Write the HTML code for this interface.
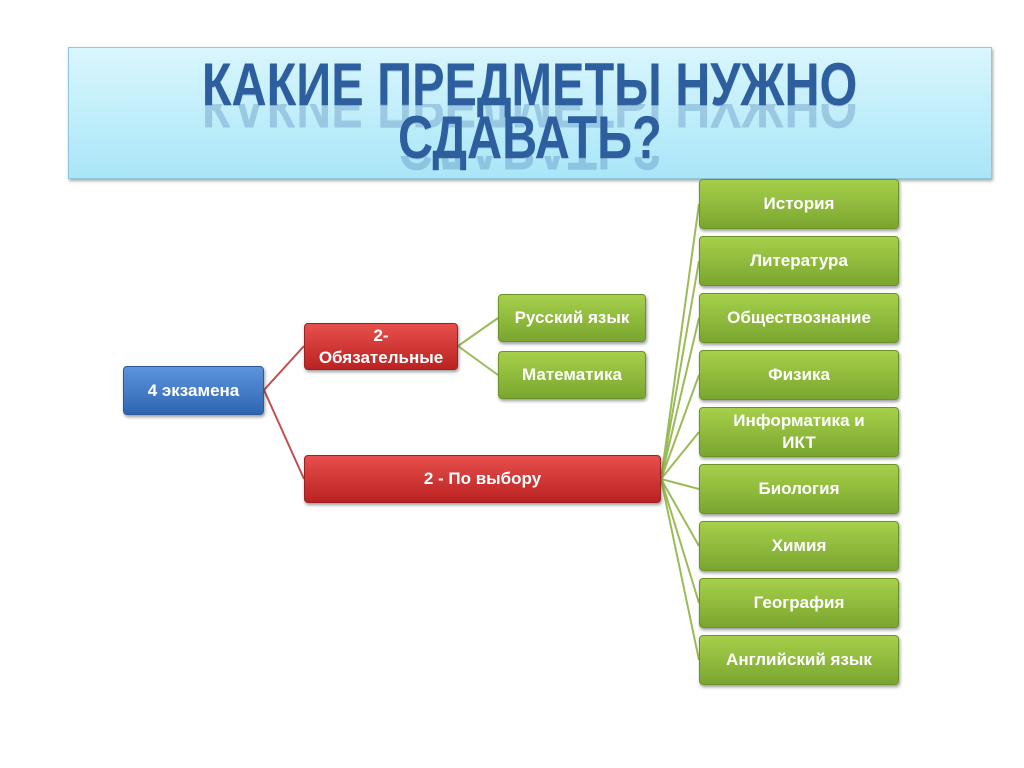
<!DOCTYPE html>
<html><head><meta charset="utf-8"><style>
body{margin:0;width:1024px;height:768px;background:#fff;position:relative;overflow:hidden;font-family:"Liberation Sans",sans-serif}
.title{position:absolute;left:68px;top:47px;width:922px;height:130px;background:linear-gradient(#d9f6fd,#a9e6f8);border:1px solid #8fc8dc;box-shadow:1px 2px 3px rgba(0,0,0,.35)}
.t{position:absolute;left:0;width:100%;text-align:center;font-weight:bold;font-size:60px;color:#2d5e9e;line-height:60px}
.t span{display:inline-block;transform:scaleX(.81);text-shadow:0 1px 0 #9bc1e5}
.r{opacity:.25;transform:scaleY(-1)}
.n{position:absolute;box-sizing:border-box;border-radius:4px;color:#fff;font-weight:bold;font-size:17px;text-align:center;display:flex;align-items:center;justify-content:center;line-height:22px;box-shadow:1px 2px 3px rgba(0,0,0,.4)}
.b{background:linear-gradient(#5b95dc,#2f66b3);border:1px solid #2a5a9c}
.red{background:linear-gradient(#e6504c,#bb2222);border:1px solid #9c2020}
.g{background:linear-gradient(#a6d04a,#7aa630);border:1px solid #6a9428;left:699px;width:200px;height:50px}
</style></head><body>
<div class="title">
<div class="t" style="top:7px"><span>КАКИЕ ПРЕДМЕТЫ НУЖНО</span></div>
<div class="t r" style="top:56px;height:32px;overflow:hidden"><span>КАКИЕ ПРЕДМЕТЫ НУЖНО</span></div>
<div class="t" style="top:60px"><span>СДАВАТЬ?</span></div>
<div class="t r" style="top:108px;height:22px;overflow:hidden"><span>СДАВАТЬ?</span></div>
</div>
<svg width="1024" height="768" style="position:absolute;left:0;top:0">
<g stroke="#c0504d" stroke-width="2" fill="none"><path d="M264 390L304 346M264 390L304 479"/></g>
<g stroke="#9bbb59" stroke-width="2" fill="none">
<path d="M458 346L498 318M458 346L498 375"/>
<path d="M661 479L699 204M661 479L699 261M661 479L699 318M661 479L699 375M661 479L699 432M661 479L699 489M661 479L699 546M661 479L699 603M661 479L699 660"/>
</g></svg>
<div class="n b" style="left:123px;top:366px;width:141px;height:49px">4 экзамена</div>
<div class="n red" style="left:304px;top:323px;width:154px;height:47px">2-<br>Обязательные</div>
<div class="n red" style="left:304px;top:455px;width:357px;height:48px">2 - По выбору</div>
<div class="n g" style="left:498px;top:294px;width:148px;height:48px">Русский язык</div>
<div class="n g" style="left:498px;top:351px;width:148px;height:48px">Математика</div>
<div class="n g" style="top:179px">История</div>
<div class="n g" style="top:236px">Литература</div>
<div class="n g" style="top:293px">Обществознание</div>
<div class="n g" style="top:350px">Физика</div>
<div class="n g" style="top:407px;align-items:flex-start;padding-top:2px">Информатика и<br>ИКТ</div>
<div class="n g" style="top:464px">Биология</div>
<div class="n g" style="top:521px">Химия</div>
<div class="n g" style="top:578px">География</div>
<div class="n g" style="top:635px">Английский язык</div>
</body></html>
